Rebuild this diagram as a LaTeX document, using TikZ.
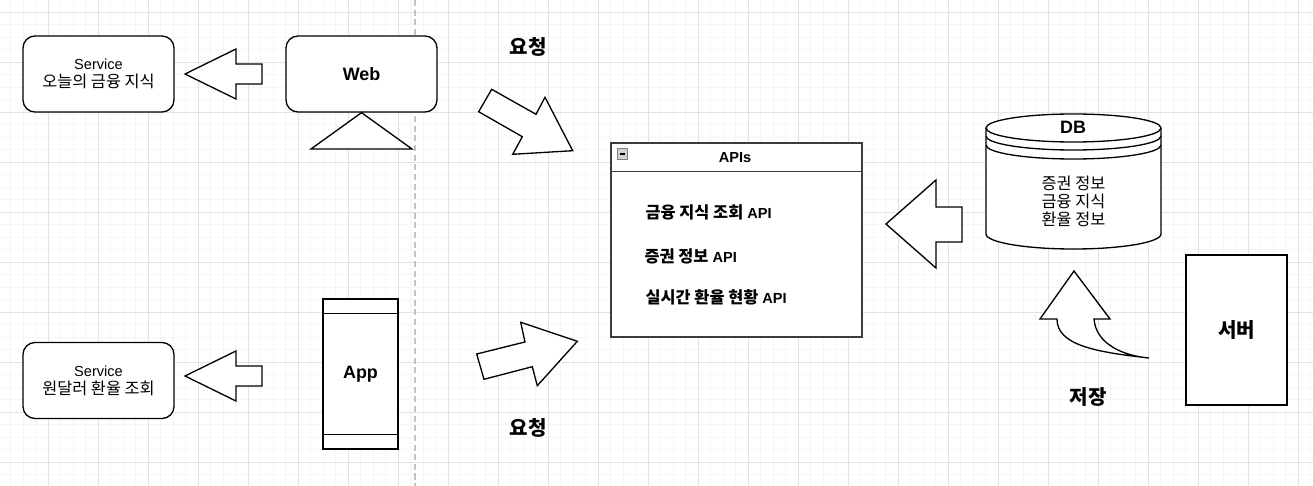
\documentclass[tikz,border=0pt]{standalone}
\usepackage{fontspec}
\setmainfont{Liberation Sans}
\newfontfamily\kr[Scale=1.12]{Noto Sans CJK KR}
\definecolor{gridminor}{RGB}{245,245,245}
\definecolor{gridmajor}{RGB}{226,226,226}
\definecolor{sepgray}{RGB}{195,195,195}
\definecolor{apigray}{RGB}{60,60,60}
\usetikzlibrary{calc}

\begin{document}
\begin{tikzpicture}[x=0.02cm,y=-0.02cm,line width=0.75pt,
  txt/.style={font=\fontsize{8.3}{10.2}\selectfont,align=center},
  big/.style={font=\fontsize{10.2}{12}\selectfont\bfseries},
  item/.style={font=\fontsize{8.3}{10}\selectfont\bfseries,inner sep=0pt,anchor=west},
  rbox/.style={draw,rounded corners=0.24cm,fill=white,minimum width=3.02cm,minimum height=1.52cm,txt},
  sbox/.style={draw,fill=white,inner sep=0pt},
  blockarrow/.style={draw,fill=white,line join=miter},
  foldbox/.style={draw=gray,fill=gray!35,minimum size=0.21cm,inner sep=0pt,line width=0.5pt,
    path picture={\draw[black,line width=0.6pt] ([xshift=0.05cm]path picture bounding box.west) -- ([xshift=-0.05cm]path picture bounding box.east);}},
  minor/.style={gridminor,line width=0.5pt},
  major/.style={gridmajor,line width=0.5pt}]
  \useasboundingbox (0,0) rectangle (1313,486);
  \fill[white] (0,0) rectangle (1313,486);
  % Grid
  \foreach \x in {10.5,23,...,1313} \draw[minor] (\x,0) -- (\x,486);
  \foreach \y in {-0.5,12,...,486} \draw[minor] (0,\y) -- (1313,\y);
  \foreach \x in {48,98,...,1313} \draw[major] (\x,0) -- (\x,486);
  \foreach \y in {12,62,...,486} \draw[major] (0,\y) -- (1313,\y);
  \draw[sepgray,line width=1pt,dash pattern=on 3.5pt off 2pt] (415,0) -- (415,486);
  % Clients
  \node[rbox] (svcweb) at (98.5,74) {Service\\{\kr 오늘의 금융 지식}};
  \node[rbox,big] (web) at (361.5,74) {Web};
  \draw[fill=white] (web.south) -- (412,149) -- (311,149) -- cycle;
  \node[rbox] (svcapp) at (98.5,380.5) {Service\\{\kr 원달러 환율 조회}};
  \node[sbox,minimum width=1.5cm,minimum height=3cm,big] (app) at (360.5,374) {App};
  \draw ([yshift=-0.3cm]app.north west) -- ([yshift=-0.3cm]app.north east);
  \draw ([yshift=0.3cm]app.south west) -- ([yshift=0.3cm]app.south east);
  \foreach \yc in {74,376}
    \draw[blockarrow] (185,\yc) -- ++(51,-25) -- ++(0,15) -- ++(26,0) -- ++(0,20) -- ++(-26,0) -- ++(0,15) -- cycle;
  % Requests
  \node[big] (reqtop) at (528,47) {\kr 요청};
  \node[big] (reqbot) at (528,428) {\kr 요청};
  \draw[blockarrow] (491.7,89.3) -- (536,114.3) -- (545,97.3) -- (572.7,150.7) -- (512.7,154.3) -- (522.3,136.7) -- (478.7,111.7) -- cycle;
  \draw[blockarrow] (476.7,354) -- (525,342) -- (520.7,322.3) -- (577.3,341.3) -- (537.3,385.7) -- (532.3,366.7) -- (484,379.3) -- cycle;
  % APIs
  \node[sbox,draw=apigray,minimum width=5.02cm,minimum height=3.88cm] (apis) at (736.5,240) {};
  \draw[apigray] ([yshift=-0.58cm]apis.north west) -- ([yshift=-0.58cm]apis.north east);
  \node[font=\fontsize{8.3}{10}\selectfont\bfseries] (apistitle) at (735,158) {APIs};
  \node[foldbox] (apisfold) at (622.5,154) {};
  \node[item] (api1) at (645,212) {{\kr 금융 지식 조회} API};
  \node[item] (api2) at (644,256) {{\kr 증권 정보} API};
  \node[item] (api3) at (645,297) {{\kr 실시간 환율 현황} API};
  \draw[blockarrow] (886,224) -- (936,180) -- (936,207) -- (962,207) -- (962,242) -- (936,242) -- (936,268) -- cycle;
  % DB
  \draw[fill=white] (986,128) -- (986,234) arc[start angle=180,end angle=0,x radius=87.5,y radius=15] -- (1161,128);
  \draw[fill=white] (1073.5,128) ellipse[x radius=87.5,y radius=14];
  \draw (986,136) arc[start angle=180,end angle=0,x radius=87.5,y radius=14];
  \draw (986,145) arc[start angle=180,end angle=0,x radius=87.5,y radius=14];
  \node[big] (dbtitle) at (1073,127) {DB};
  \node[txt,font=\fontsize{8.3}{10.2}\selectfont\kr] (dbdata) at (1073.5,201) {증권 정보\\금융 지식\\환율 정보};
  % Server
  \node[sbox,minimum width=2.02cm,minimum height=3cm,big] (server) at (1236.5,330) {\kr 서버};
  \node[big] (save) at (1088,397) {\kr 저장};
  \draw[blockarrow] (1074,271) -- (1110,319) -- (1094,319) .. controls (1096,345) and (1125,356) .. (1149,358) .. controls (1095,352) and (1057,345) .. (1057,319) -- (1040,319) -- cycle;
\end{tikzpicture}
\end{document}
